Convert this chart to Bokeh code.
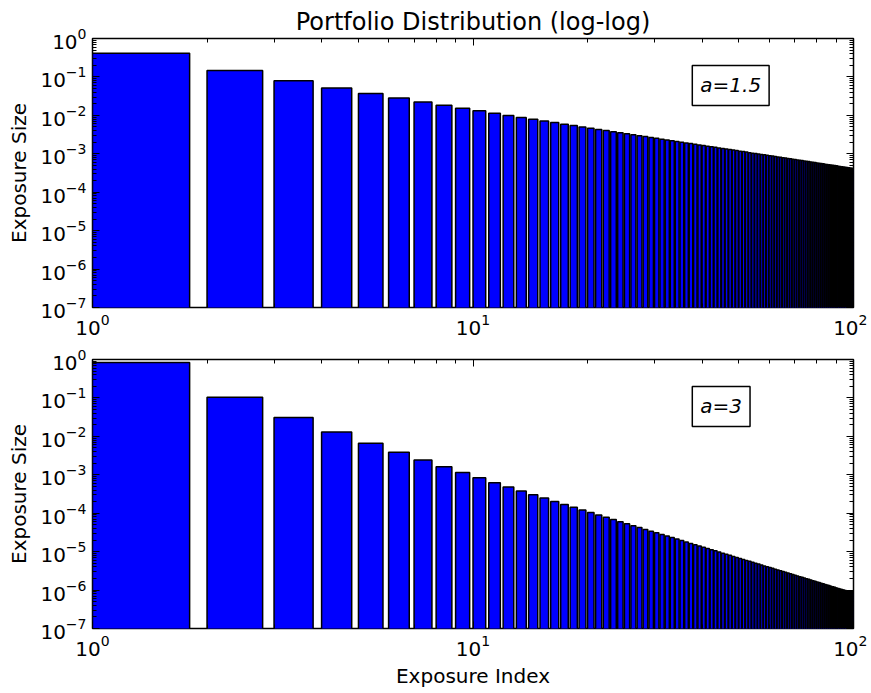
from bokeh.plotting import figure
from bokeh.layouts import column
from bokeh.models import Range1d, LogAxis, FixedTicker, Label, CustomJSTickFormatter
from bokeh.embed import file_html
from bokeh.resources import INLINE

FONT = "DejaVu Sans"

# exposure index 1..99 (bars start at index, width 0.8)
index = list(range(1, 100))

size_a15 = [
    0.4145, 0.1466, 0.07977, 0.05181, 0.03707, 0.02820, 0.02238, 0.01832, 0.01535, 0.01311,
    0.01136, 0.00997, 0.00884, 0.00791, 0.00714, 0.00648, 0.00591, 0.00543, 0.00500, 0.00463,
    0.00431, 0.00402, 0.00376, 0.00353, 0.00332, 0.00313, 0.00295, 0.00280, 0.00265, 0.00252,
    0.00240, 0.00229, 0.00219, 0.00209, 0.00200, 0.00192, 0.00184, 0.00177, 0.00170, 0.00164,
    0.00158, 0.00152, 0.00147, 0.00142, 0.00137, 0.00133, 0.00129, 0.00125, 0.00121, 0.00117,
    0.00114, 0.00111, 0.00107, 0.00104, 0.00102, 0.000989, 0.000963, 0.000938, 0.000915, 0.000892,
    0.000870, 0.000849, 0.000829, 0.000810, 0.000791, 0.000773, 0.000756, 0.000739, 0.000723, 0.000708,
    0.000693, 0.000678, 0.000665, 0.000651, 0.000638, 0.000626, 0.000613, 0.000602, 0.000590, 0.000579,
    0.000569, 0.000558, 0.000548, 0.000538, 0.000529, 0.000520, 0.000511, 0.000502, 0.000494, 0.000485,
    0.000477, 0.000470, 0.000462, 0.000455, 0.000448, 0.000441, 0.000434, 0.000427, 0.000421,
]

size_a3 = [
    0.832, 0.104, 0.0308, 0.0130, 0.00666, 0.00385, 0.00243, 0.00163, 0.00114, 0.000832,
    0.000625, 0.000481, 0.000379, 0.000303, 0.000247, 0.000203, 0.000169, 0.000143, 0.000121, 0.000104,
    8.98e-5, 7.81e-5, 6.84e-5, 6.02e-5, 5.32e-5, 4.73e-5, 4.23e-5, 3.79e-5, 3.41e-5, 3.08e-5,
    2.79e-5, 2.54e-5, 2.32e-5, 2.12e-5, 1.94e-5, 1.78e-5, 1.64e-5, 1.52e-5, 1.40e-5, 1.30e-5,
    1.21e-5, 1.12e-5, 1.05e-5, 9.77e-6, 9.13e-6, 8.55e-6, 8.01e-6, 7.52e-6, 7.07e-6, 6.66e-6,
    6.27e-6, 5.92e-6, 5.59e-6, 5.28e-6, 5.00e-6, 4.74e-6, 4.49e-6, 4.26e-6, 4.05e-6, 3.85e-6,
    3.67e-6, 3.49e-6, 3.33e-6, 3.17e-6, 3.03e-6, 2.89e-6, 2.77e-6, 2.65e-6, 2.53e-6, 2.43e-6,
    2.32e-6, 2.23e-6, 2.14e-6, 2.05e-6, 1.97e-6, 1.90e-6, 1.82e-6, 1.75e-6, 1.69e-6, 1.63e-6,
    1.57e-6, 1.51e-6, 1.46e-6, 1.40e-6, 1.35e-6, 1.31e-6, 1.26e-6, 1.22e-6, 1.18e-6, 1.14e-6,
    1.10e-6, 1.07e-6, 1.03e-6, 1.00e-6, 9.70e-7, 9.40e-7, 9.12e-7, 8.84e-7, 8.57e-7,
]

labels = ["a=1.5", "a=3"]
title_text = "Portfolio Distribution (log-log)"
xlabel = "Exposure Index"
ylabel = "Exposure Size"

y_major = [1e-7, 1e-6, 1e-5, 1e-4, 1e-3, 1e-2, 1e-1, 1e0]
x_major = [1, 10, 100]
y_minor = [m * t for t in y_major[:-1] for m in range(2, 10)]
x_minor = [m * t for t in x_major[:-1] for m in range(2, 10)]

BAR_W = 0.8


def style_axis(ax, ticks, minor, show_labels):
    ax.ticker = FixedTicker(ticks=ticks, minor_ticks=minor)
    ax.axis_line_color = None
    ax.major_tick_in = 7
    ax.major_tick_out = 0
    ax.minor_tick_in = 4
    ax.minor_tick_out = 0
    ax.major_tick_line_color = "black"
    ax.minor_tick_line_color = "black"
    ax.major_tick_line_width = 1
    ax.minor_tick_line_width = 1
    if show_labels:
        ax.major_label_text_font = FONT
        ax.major_label_text_font_size = "20px"
        ax.major_label_text_color = "black"
        ax.major_label_standoff = 6
    else:
        ax.formatter = CustomJSTickFormatter(code="return '';")
        ax.major_label_text_font_size = "0px"
        ax.major_label_standoff = 0


def make_panel(values, label, top_border, bottom_border, title=None, show_xlabel=False):
    p = figure(
        x_axis_type="log", y_axis_type="log",
        x_range=Range1d(1, 100), y_range=Range1d(1e-7, 1),
        frame_width=761, frame_height=269,
        min_border_left=92, min_border_right=14,
        min_border_top=top_border, min_border_bottom=bottom_border,
        output_backend="svg", toolbar_location=None,
    )
    p.grid.visible = False
    p.outline_line_color = "black"
    p.outline_line_width = 1.5
    p.background_fill_color = "white"
    p.border_fill_color = "white"

    left = index
    right = [i + BAR_W for i in index]
    bottom = [1e-9] * len(index)
    p.quad(left=left, right=right, bottom=bottom, top=values,
           fill_color="#0000ff", line_color="black", line_width=1.5)

    style_axis(p.xaxis[0], x_major, x_minor, True)
    style_axis(p.yaxis[0], y_major, y_minor, True)
    p.yaxis[0].axis_label = ylabel
    p.yaxis[0].axis_label_text_font = FONT
    p.yaxis[0].axis_label_text_font_size = "20px"
    p.yaxis[0].axis_label_text_font_style = "normal"
    p.yaxis[0].axis_label_text_color = "black"
    p.yaxis[0].axis_label_standoff = 6
    if show_xlabel:
        p.xaxis[0].axis_label = xlabel
        p.xaxis[0].axis_label_text_font = FONT
        p.xaxis[0].axis_label_text_font_size = "20px"
        p.xaxis[0].axis_label_text_font_style = "normal"
        p.xaxis[0].axis_label_text_color = "black"
        p.xaxis[0].axis_label_standoff = 5

    top_ax = LogAxis()
    style_axis(top_ax, x_major, x_minor, False)
    p.add_layout(top_ax, "above")
    right_ax = LogAxis()
    style_axis(right_ax, y_major, y_minor, False)
    p.add_layout(right_ax, "right")

    if title:
        p.title.text = title
        p.title.align = "center"
        p.title.text_font = FONT
        p.title.text_font_size = "24px"
        p.title.text_font_style = "normal"
        p.title.text_color = "black"
        p.title.standoff = 5

    lab = Label(x=37.7, y=0.06, text=label, text_align="left", text_baseline="middle",
                text_font=FONT, text_font_size="20px", text_font_style="italic",
                text_color="black", background_fill_color="white",
                border_line_color="black", border_line_width=1.5, padding=8)
    p.add_layout(lab)
    return p


p1 = make_panel(size_a15, labels[0], 38, 36, title=title_text)
p2 = make_panel(size_a3, labels[1], 16, 60, show_xlabel=True)

layout = column(p1, p2, spacing=0)
open("out.html", "w").write(file_html(layout, INLINE))
